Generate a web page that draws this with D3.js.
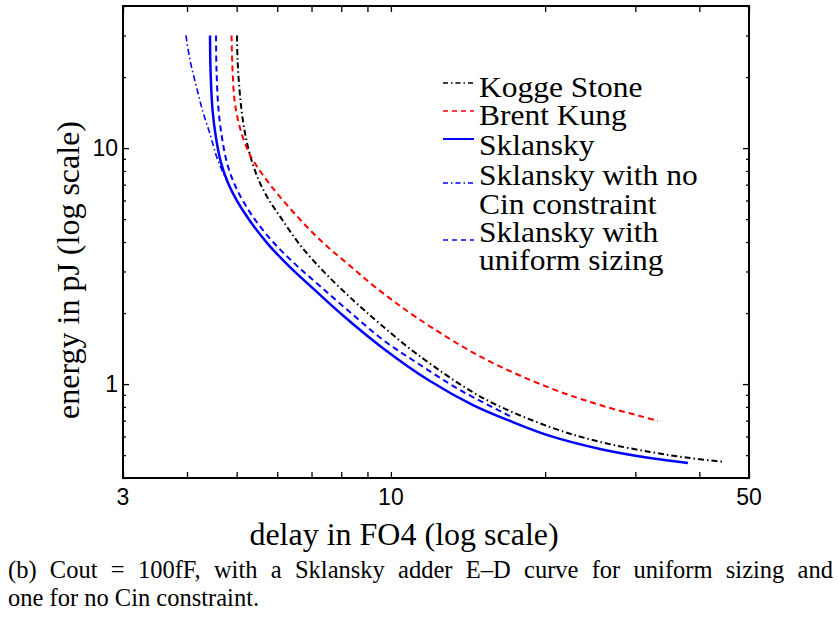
<!DOCTYPE html>
<html><head><meta charset="utf-8">
<script src="https://cdn.jsdelivr.net/npm/d3@7"></script>
<style>
body{margin:0;background:#fff}
.serif{font-family:"Liberation Serif","Times New Roman",Times,serif}
.sans{font-family:"Liberation Sans",Arial,Helvetica,sans-serif}
</style>
</head><body><svg id="c" width="838" height="619"></svg>
<script>
// ---- data (delay in FO4, energy in pJ) ----
const koggeDelay  = [5.008,5.020,5.065,5.134,5.238,5.381,5.553,5.782,6.102,6.646,7.435,8.435,9.521,11.245,15.128,20.439,25.59,32.03,38.34,44.88];
const koggeEnergy = [30,23.62,17.63,13.41,10.51,8.48,7.11,6.03,5.06,3.89,2.96,2.27,1.80,1.34,0.873,0.658,0.569,0.516,0.486,0.468];
const brentDelay  = [4.886,4.908,4.952,5.031,5.145,5.309,5.503,5.756,6.075,6.498,7.013,7.604,8.322,9.310,11.245,15.128,20.439,25.59,30.63,33.21];
const brentEnergy = [30,21.42,15.99,13.15,11.04,9.35,8.24,7.19,6.21,5.26,4.41,3.74,3.17,2.58,1.91,1.29,0.963,0.815,0.732,0.698];
const sklDelay    = [4.436,4.446,4.486,4.557,4.661,4.810,5.008,5.309,5.756,6.354,7.109,8.137,9.650,11.921,14.463,17.077,20.439,25.59,32.03,38.00];
const sklEnergy   = [30,21.42,14.50,11.04,8.65,7.11,5.97,4.91,3.92,3.13,2.50,1.92,1.42,1.03,0.815,0.698,0.603,0.531,0.486,0.463];
const noCinDelay  = [3.981,4.054,4.174,4.297,4.436,4.578,4.767,5.008,5.309,5.756];
const noCinEnergy = [30,23.62,18.15,14.22,11.47,9.08,7.40,5.97,4.91,3.92];
const uniDelay    = [4.557,4.567,4.609,4.682,4.788,4.941,5.145,5.453,5.913,6.527,7.303,8.359,9.650,11.245,13.643,17.077];
const uniEnergy   = [30,21.42,14.50,11.04,8.65,7.11,5.97,4.91,3.96,3.20,2.58,2.00,1.54,1.23,0.944,0.732];

const seriesNames = ["Kogge Stone","Brent Kung","Sklansky","Sklansky with no|Cin constraint","Sklansky with|uniform sizing"];
const xTickValues = [3,4,5,6,7,8,9,10,20,30,40,50];
const xTickLabels = [3,10,50];
const yMinorTicks = [0.4,0.5,0.6,0.7,0.8,0.9,2,3,4,5,6,7,8,9,20,30,40];
const yTickLabels = [1,10];
const xTitle = "delay in FO4 (log scale)";
const yTitle = "energy in pJ (log scale)";
const caption1 = "(b) Cout = 100fF, with a Sklansky adder E\u2013D curve for uniform sizing and";
const caption2 = "one for no Cin constraint.";

// ---- layout ----
const L = 123, R = 749, T = 6, B = 478;
const svg = d3.select("#c");
const x = d3.scaleLog().domain([3,50]).range([L,R]);
const y = d3.scaleLog().domain([0.4,40]).range([B,T]);

const styles = [
  {color:"#000000", dash:"6,3,1.5,3", w:2,   lw:1.6, ldash:"5,3,1.5,3"},
  {color:"#ff0000", dash:"6,4",       w:2,   lw:1.6, ldash:"5,4"},
  {color:"#0000ff", dash:null,        w:2.5, lw:2,   ldash:null},
  {color:"#0000ff", dash:"6,3,1.5,3", w:1.6, lw:1.4, ldash:"5,3,1.5,3"},
  {color:"#0000ff", dash:"6,4",       w:2,   lw:1.6, ldash:"5,4"}
];
const data = [
  d3.zip(koggeDelay,koggeEnergy),
  d3.zip(brentDelay,brentEnergy),
  d3.zip(sklDelay,sklEnergy),
  d3.zip(noCinDelay,noCinEnergy),
  d3.zip(uniDelay,uniEnergy)
];

svg.append("defs").append("clipPath").attr("id","clip")
  .append("rect").attr("x",L).attr("y",T).attr("width",R-L).attr("height",B-T);

const line = d3.line().x(d=>x(d[0])).y(d=>y(d[1])).curve(d3.curveCatmullRom.alpha(0.5));
const g = svg.append("g").attr("clip-path","url(#clip)");
data.forEach((d,i)=>{
  g.append("path").attr("d", line(d))
   .attr("fill","none").attr("stroke",styles[i].color).attr("stroke-width",styles[i].w)
   .attr("stroke-dasharray",styles[i].dash);
});

// ---- axes (MATLAB-like box with inward ticks) ----
const tlMajor = 6, tlMinor = 3;
const axes = [
  [d3.axisBottom(x).tickValues(xTickValues).tickSize(-tlMajor), `translate(0,${B})`],
  [d3.axisTop(x).tickValues(xTickValues).tickSize(-tlMajor), `translate(0,${T})`],
  [d3.axisLeft(y).tickValues(yTickLabels).tickSize(-tlMajor), `translate(${L},0)`],
  [d3.axisRight(y).tickValues(yTickLabels).tickSize(-tlMajor), `translate(${R},0)`],
  [d3.axisLeft(y).tickValues(yMinorTicks).tickSize(-tlMinor), `translate(${L},0)`],
  [d3.axisRight(y).tickValues(yMinorTicks).tickSize(-tlMinor), `translate(${R},0)`]
];
axes.forEach(([a,t])=>{
   const gg = svg.append("g").attr("transform",t).call(a.tickFormat(""));
   gg.select(".domain").remove();
   gg.selectAll(".tick text").remove();
   gg.selectAll(".tick line").attr("stroke","#000").attr("stroke-width",1.3);
 });
svg.append("rect").attr("x",L).attr("y",T).attr("width",R-L).attr("height",B-T)
  .attr("fill","none").attr("stroke","#000").attr("stroke-width",2);

// tick labels
svg.append("g").selectAll("text").data(xTickLabels).join("text").attr("class","sans")
  .attr("x",d=>x(d)).attr("y",505).attr("text-anchor","middle")
  .attr("font-size",23).text(d=>d);
svg.append("g").selectAll("text").data(yTickLabels).join("text").attr("class","sans")
  .attr("x",L-5).attr("y",d=>y(d)).attr("dy","0.36em").attr("text-anchor","end")
  .attr("font-size",23).text(d=>d);

// axis titles
svg.append("text").attr("class","serif").attr("x",404).attr("y",545).attr("text-anchor","middle")
  .attr("font-size",32).text(xTitle);
svg.append("text").attr("class","serif").attr("transform","translate(79,270) rotate(-90)").attr("text-anchor","middle")
  .attr("font-size",32).text(yTitle);

// legend
const legLineY = [83,111,139,183,240];
const legTextY = [[97],[125],[155],[185,214],[242,270]];
seriesNames.forEach((name,i)=>{
  svg.append("line").attr("x1",443).attr("x2",474).attr("y1",legLineY[i]).attr("y2",legLineY[i])
    .attr("stroke",styles[i].color).attr("stroke-width",styles[i].lw)
    .attr("stroke-dasharray",styles[i].ldash);
  name.split("|").forEach((t,j)=>{
    svg.append("text").attr("class","serif")
      .attr("transform",`translate(479,${legTextY[i][j]}) scale(1.05,1)`)
      .attr("font-size",30).text(t);
  });
});

// caption (first line justified to the text width)
const capSize = 24.5;
const c1 = svg.append("text").attr("class","serif").attr("x",8).attr("y",578)
  .attr("font-size",capSize).text(caption1);
const w1 = c1.node().getComputedTextLength();
const nSp = caption1.split(" ").length-1;
c1.attr("word-spacing", Math.max(0,(825-w1)/nSp));
svg.append("text").attr("class","serif").attr("x",8).attr("y",606)
  .attr("font-size",capSize).text(caption2);
</script>
</body></html>
